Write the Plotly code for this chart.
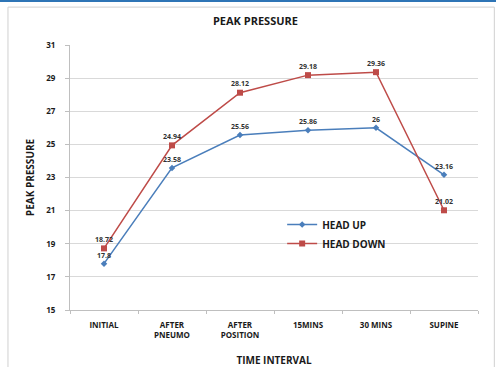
import plotly.graph_objects as go

categories = ["INITIAL", "AFTER<br>PNEUMO", "AFTER<br>POSITION", "15MINS", "30 MINS", "SUPINE"]
head_up = [17.8, 23.58, 25.56, 25.86, 26, 23.16]
head_down = [18.72, 24.94, 28.12, 29.18, 29.36, 21.02]
y_ticks = [15, 17, 19, 21, 23, 25, 27, 29, 31]

FONT = "Open Sans"
fig = go.Figure()
fig.add_trace(go.Scatter(
    x=categories, y=head_up, name="HEAD UP", mode="lines+markers+text",
    line=dict(color="#4a7ebb", width=1.5),
    marker=dict(symbol="diamond", size=5, color="#4a7ebb"),
    text=[str(v) for v in head_up], textposition="top center",
    textfont=dict(size=7, color="#333333", family=FONT, weight="bold"),
))
fig.add_trace(go.Scatter(
    x=categories, y=head_down, name="HEAD DOWN", mode="lines+markers+text",
    line=dict(color="#be4b48", width=1.5),
    marker=dict(symbol="square", size=6, color="#be4b48"),
    text=[str(v) for v in head_down], textposition="top center",
    textfont=dict(size=7, color="#333333", family=FONT, weight="bold"),
))

fig.update_layout(
    width=496, height=367,
    margin=dict(l=70, r=18, t=45, b=57, autoexpand=False),
    paper_bgcolor="white", plot_bgcolor="white",
    font=dict(family=FONT, color="#1a1a1a"),
    title=dict(text="<b>PEAK PRESSURE</b>", x=0.515, xanchor="center", y=0.943, yanchor="middle",
               font=dict(size=11, family=FONT, color="#1a1a1a")),
    showlegend=True,
    legend=dict(x=0.52, y=0.377, xanchor="left", yanchor="top",
                font=dict(size=10, family=FONT, color="#1a1a1a", weight="bold"),
                bgcolor="rgba(0,0,0,0)", tracegroupgap=2, itemwidth=30),
    xaxis=dict(
        type="category", range=[-0.5, 5.5], tickson="boundaries", ticks="outside", ticklen=3,
        automargin=False, ticklabelstandoff=7,
        tickcolor="#bfbfbf", showline=True, linecolor="#bfbfbf", showgrid=False,
        tickfont=dict(size=8, family=FONT, weight="bold", color="#1a1a1a"),
        title=dict(text="<b>TIME INTERVAL</b>", font=dict(size=10, family=FONT), standoff=18),
    ),
    yaxis=dict(
        range=[15, 31], tickvals=y_ticks, ticks="outside", ticklen=4, tickcolor="#bfbfbf",
        automargin=False, ticklabelstandoff=8,
        showline=True, linecolor="#bfbfbf", showgrid=True, gridcolor="#d9d9d9", zeroline=False,
        tickfont=dict(size=8, family=FONT, weight="bold", color="#1a1a1a"),
        title=dict(text="<b>PEAK PRESSURE</b>", font=dict(size=10, family=FONT), standoff=9),
    ),
    shapes=[
        dict(type="rect", xref="paper", yref="paper", x0=-0.152, x1=1.04, y0=-0.3, y1=1.143,
             line=dict(color="#d0d0d0", width=1), layer="below"),
        dict(type="rect", xref="paper", yref="paper", x0=-0.3, x1=1.1, y0=1.162, y1=1.2,
             line=dict(width=0), fillcolor="#2e75b6"),
    ],
)
fig.write_html("out.html", config={"displayModeBar": False},
               post_script="document.body.style.margin='0';document.body.style.overflow='hidden';")
